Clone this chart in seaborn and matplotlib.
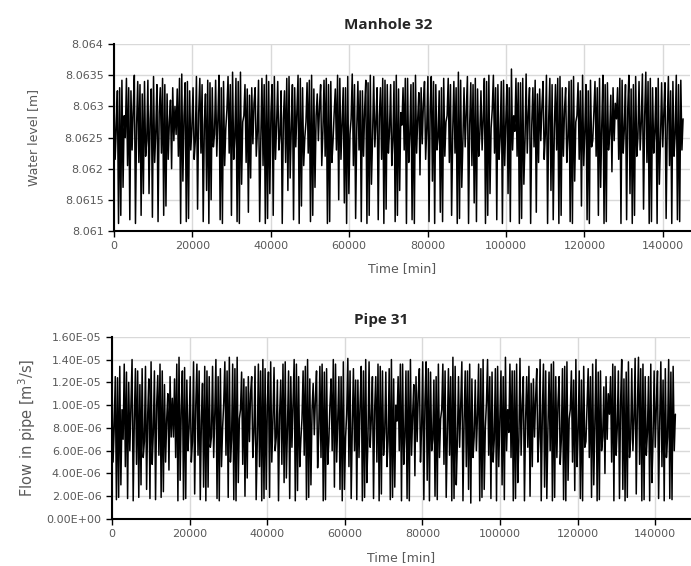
import numpy as np
import pandas as pd
import matplotlib
matplotlib.use("Agg")
import matplotlib.pyplot as plt
import seaborn as sns

# daily extremes (one value per day, 101 days)
# Manhole 32 water level [m]
level_peak_a = [
    8.06335, 8.06330, 8.06345, 8.06325, 8.06340, 8.06320, 8.06342, 8.06348, 8.06330, 8.06335,
    8.06310, 8.06328, 8.06352, 8.06340, 8.06330, 8.06345, 8.06320, 8.06338, 8.06342, 8.06330,
    8.06348, 8.06355, 8.06340, 8.06335, 8.06318, 8.06330, 8.06345, 8.06350, 8.06335, 8.06340,
    8.06325, 8.06348, 8.06330, 8.06345, 8.06338, 8.06350, 8.06320, 8.06342, 8.06335, 8.06328,
    8.06345, 8.06330, 8.06352, 8.06340, 8.06325, 8.06338, 8.06348, 8.06330, 8.06342, 8.06335,
    8.06350, 8.06330, 8.06345, 8.06338, 8.06322, 8.06340, 8.06348, 8.06335, 8.06330, 8.06345,
    8.06340, 8.06355, 8.06330, 8.06338, 8.06345, 8.06325, 8.06340, 8.06350, 8.06335, 8.06342,
    8.06330, 8.06345, 8.06338, 8.06352, 8.06330, 8.06320, 8.06340, 8.06345, 8.06335, 8.06348,
    8.06330, 8.06342, 8.06338, 8.06350, 8.06325, 8.06340, 8.06345, 8.06335, 8.06318, 8.06330,
    8.06342, 8.06350, 8.06335, 8.06340, 8.06355, 8.06345, 8.06330, 8.06338, 8.06348, 8.06340,
    8.06335]
level_low_a = [
    8.06215, 8.06170, 8.06205, 8.06230, 8.06210, 8.06220, 8.06160, 8.06210, 8.06225, 8.06215,
    8.06245, 8.06220, 8.06180, 8.06230, 8.06215, 8.06225, 8.06165, 8.06235, 8.06220, 8.06205,
    8.06225, 8.06215, 8.06175, 8.06210, 8.06240, 8.06220, 8.06205, 8.06160, 8.06215, 8.06230,
    8.06210, 8.06185, 8.06235, 8.06205, 8.06225, 8.06170, 8.06245, 8.06220, 8.06210, 8.06230,
    8.06215, 8.06160, 8.06205, 8.06230, 8.06220, 8.06175, 8.06235, 8.06215, 8.06225, 8.06205,
    8.06165, 8.06230, 8.06210, 8.06225, 8.06240, 8.06215, 8.06180, 8.06230, 8.06220, 8.06210,
    8.06225, 8.06170, 8.06235, 8.06205, 8.06220, 8.06230, 8.06160, 8.06225, 8.06215, 8.06205,
    8.06230, 8.06220, 8.06175, 8.06225, 8.06235, 8.06245, 8.06215, 8.06165, 8.06230, 8.06220,
    8.06210, 8.06180, 8.06215, 8.06205, 8.06235, 8.06220, 8.06170, 8.06230, 8.06245, 8.06215,
    8.06225, 8.06160, 8.06220, 8.06230, 8.06210, 8.06225, 8.06175, 8.06235, 8.06205, 8.06220,
    8.06230]
level_mid = [
    8.06265, 8.06285, 8.06250, 8.06295, 8.06270, 8.06245, 8.06280, 8.06260, 8.06290, 8.06275,
    8.06300, 8.06255, 8.06285, 8.06265, 8.06245, 8.06290, 8.06270, 8.06255, 8.06280, 8.06265,
    8.06295, 8.06250, 8.06275, 8.06285, 8.06305, 8.06260, 8.06245, 8.06290, 8.06270, 8.06255,
    8.06280, 8.06265, 8.06295, 8.06250, 8.06275, 8.06285, 8.06300, 8.06260, 8.06245, 8.06290,
    8.06270, 8.06255, 8.06280, 8.06265, 8.06295, 8.06250, 8.06275, 8.06285, 8.06260, 8.06245,
    8.06290, 8.06270, 8.06255, 8.06280, 8.06305, 8.06265, 8.06295, 8.06250, 8.06275, 8.06285,
    8.06260, 8.06245, 8.06290, 8.06270, 8.06255, 8.06280, 8.06265, 8.06295, 8.06250, 8.06275,
    8.06285, 8.06260, 8.06245, 8.06290, 8.06270, 8.06300, 8.06255, 8.06280, 8.06265, 8.06295,
    8.06250, 8.06275, 8.06285, 8.06260, 8.06245, 8.06290, 8.06270, 8.06255, 8.06305, 8.06280,
    8.06265, 8.06295, 8.06250, 8.06275, 8.06285, 8.06260, 8.06245, 8.06290, 8.06270, 8.06255,
    8.06280]
level_peak_b = [
    8.06325, 8.06342, 8.06330, 8.06350, 8.06335, 8.06340, 8.06328, 8.06335, 8.06345, 8.06320,
    8.06330, 8.06345, 8.06338, 8.06325, 8.06348, 8.06335, 8.06342, 8.06330, 8.06350, 8.06340,
    8.06335, 8.06345, 8.06355, 8.06328, 8.06330, 8.06342, 8.06335, 8.06340, 8.06348, 8.06325,
    8.06345, 8.06335, 8.06350, 8.06330, 8.06342, 8.06328, 8.06335, 8.06345, 8.06340, 8.06350,
    8.06330, 8.06348, 8.06335, 8.06325, 8.06342, 8.06350, 8.06330, 8.06345, 8.06335, 8.06340,
    8.06328, 8.06345, 8.06335, 8.06350, 8.06330, 8.06348, 8.06340, 8.06325, 8.06345, 8.06335,
    8.06330, 8.06342, 8.06348, 8.06335, 8.06328, 8.06345, 8.06350, 8.06330, 8.06340, 8.06335,
    8.06360, 8.06338, 8.06345, 8.06330, 8.06342, 8.06328, 8.06350, 8.06335, 8.06345, 8.06330,
    8.06340, 8.06348, 8.06325, 8.06335, 8.06342, 8.06330, 8.06350, 8.06338, 8.06330, 8.06345,
    8.06335, 8.06328, 8.06348, 8.06352, 8.06340, 8.06330, 8.06345, 8.06338, 8.06325, 8.06350,
    8.06342]
level_low_b = [
    8.06112, 8.06125, 8.06118, 8.06112, 8.06125, 8.06160, 8.06122, 8.06115, 8.06125, 8.06140,
    8.06200, 8.06112, 8.06115, 8.06120, 8.06135, 8.06115, 8.06112, 8.06150, 8.06118, 8.06112,
    8.06125, 8.06115, 8.06112, 8.06130, 8.06185, 8.06115, 8.06112, 8.06120, 8.06125, 8.06112,
    8.06165, 8.06118, 8.06112, 8.06140, 8.06115, 8.06125, 8.06205, 8.06112, 8.06115, 8.06150,
    8.06145, 8.06112, 8.06120, 8.06115, 8.06112, 8.06125, 8.06118, 8.06112, 8.06135, 8.06115,
    8.06125, 8.06112, 8.06118, 8.06112, 8.06190, 8.06115, 8.06112, 8.06130, 8.06115, 8.06125,
    8.06112, 8.06120, 8.06112, 8.06145, 8.06115, 8.06112, 8.06125, 8.06118, 8.06112, 8.06160,
    8.06115, 8.06112, 8.06120, 8.06112, 8.06130, 8.06210, 8.06112, 8.06118, 8.06112, 8.06125,
    8.06115, 8.06112, 8.06140, 8.06118, 8.06112, 8.06125, 8.06112, 8.06115, 8.06195, 8.06112,
    8.06118, 8.06112, 8.06125, 8.06135, 8.06112, 8.06115, 8.06112, 8.06120, 8.06112, 8.06118,
    8.06115]

# Pipe 31 flow, in 1e-6 m3/s
flow_peak_a = [
    13.0, 12.4, 13.6, 12.0, 13.2, 11.8, 13.4, 13.8, 12.6, 13.0,
    11.0, 12.3, 14.2, 13.3, 12.5, 13.6, 11.9, 13.0, 13.4, 12.5,
    13.8, 14.2, 13.2, 12.9, 11.6, 12.5, 13.6, 14.0, 12.9, 13.3,
    12.2, 13.8, 12.5, 13.6, 13.0, 14.0, 11.9, 13.4, 12.9, 12.3,
    13.6, 12.5, 14.1, 13.2, 12.2, 13.0, 13.8, 12.5, 13.4, 12.9,
    14.0, 12.5, 13.6, 13.0, 11.8, 13.2, 13.8, 12.9, 12.5, 13.6,
    13.2, 14.2, 12.5, 13.0, 13.6, 12.2, 13.2, 14.0, 12.9, 13.4,
    12.5, 13.6, 13.0, 14.1, 12.5, 11.9, 13.2, 13.6, 12.9, 13.8,
    12.5, 13.4, 13.0, 14.0, 12.2, 13.2, 13.6, 12.9, 11.6, 12.5,
    13.4, 14.0, 12.9, 13.2, 14.2, 13.6, 12.5, 13.0, 13.8, 13.2,
    12.9]
flow_low_a = [
    5.0, 3.0, 4.6, 6.0, 4.8, 5.4, 2.6, 4.8, 5.6, 5.0,
    7.2, 5.4, 3.4, 6.0, 5.0, 5.6, 2.8, 6.3, 5.4, 4.6,
    5.6, 5.0, 3.2, 4.8, 6.8, 5.4, 4.6, 2.6, 5.0, 6.0,
    4.8, 3.6, 6.3, 4.6, 5.6, 3.0, 7.4, 5.4, 4.8, 6.0,
    5.0, 2.6, 4.6, 6.0, 5.4, 3.2, 6.3, 5.0, 5.6, 4.6,
    2.8, 6.0, 4.8, 5.6, 6.8, 5.0, 3.4, 6.0, 5.4, 4.8,
    5.6, 3.0, 6.3, 4.6, 5.4, 6.0, 2.6, 5.6, 5.0, 4.6,
    6.0, 5.4, 3.2, 5.6, 6.3, 7.2, 5.0, 2.8, 6.0, 5.4,
    4.8, 3.4, 5.0, 4.6, 6.3, 5.4, 3.0, 6.0, 7.0, 5.0,
    5.6, 2.6, 5.4, 6.0, 4.8, 5.6, 3.2, 6.3, 4.6, 5.4,
    6.0]
flow_mid = [
    8.0, 9.6, 7.0, 10.2, 8.6, 6.8, 9.2, 7.6, 10.0, 8.8,
    10.6, 7.2, 9.6, 8.0, 6.8, 10.0, 8.6, 7.2, 9.2, 8.0,
    10.2, 7.0, 8.8, 9.6, 11.0, 7.6, 6.8, 10.0, 8.6, 7.2,
    9.2, 8.0, 10.2, 7.0, 8.8, 9.6, 10.6, 7.6, 6.8, 10.0,
    8.6, 7.2, 9.2, 8.0, 10.2, 7.0, 8.8, 9.6, 7.6, 6.8,
    10.0, 8.6, 7.2, 9.2, 11.0, 8.0, 10.2, 7.0, 8.8, 9.6,
    7.6, 6.8, 10.0, 8.6, 7.2, 9.2, 8.0, 10.2, 7.0, 8.8,
    9.6, 7.6, 6.8, 10.0, 8.6, 10.6, 7.2, 9.2, 8.0, 10.2,
    7.0, 8.8, 9.6, 7.6, 6.8, 10.0, 8.6, 7.2, 11.0, 9.2,
    8.0, 10.2, 7.0, 8.8, 9.6, 7.6, 6.8, 10.0, 8.6, 7.2,
    9.2]
flow_peak_b = [
    12.5, 13.4, 12.9, 14.0, 13.0, 13.2, 12.3, 13.0, 13.6, 11.8,
    12.5, 13.6, 13.0, 12.2, 13.8, 13.0, 13.4, 12.5, 14.0, 13.2,
    13.0, 13.6, 14.2, 12.3, 12.5, 13.4, 13.0, 13.2, 13.8, 12.2,
    13.6, 13.0, 14.0, 12.5, 13.4, 12.3, 13.0, 13.6, 13.2, 14.0,
    12.5, 13.8, 13.0, 12.2, 13.4, 14.0, 12.5, 13.6, 13.0, 13.2,
    12.3, 13.6, 13.0, 14.0, 12.5, 13.8, 13.2, 12.2, 13.6, 13.0,
    12.5, 13.4, 13.8, 13.0, 12.3, 13.6, 14.0, 12.5, 13.2, 13.0,
    14.2, 13.0, 13.6, 12.5, 13.4, 12.3, 14.0, 13.0, 13.6, 12.5,
    13.2, 13.8, 12.2, 13.0, 13.4, 12.5, 14.0, 13.0, 12.5, 13.6,
    13.0, 12.3, 13.8, 14.1, 13.2, 12.5, 13.6, 13.0, 12.2, 14.0,
    13.4]
flow_low_b = [
    1.7, 1.9, 1.8, 1.6, 1.9, 3.0, 1.8, 1.7, 1.9, 2.4,
    4.3, 1.6, 1.7, 1.8, 2.2, 1.7, 1.6, 2.8, 1.8, 1.6,
    1.9, 1.7, 1.6, 2.0, 3.6, 1.7, 1.6, 1.8, 1.9, 1.6,
    3.2, 1.8, 1.6, 2.5, 1.7, 1.9, 4.5, 1.6, 1.7, 2.8,
    2.6, 1.6, 1.8, 1.7, 1.6, 1.9, 1.8, 1.6, 2.2, 1.7,
    1.9, 1.6, 1.8, 1.6, 3.8, 1.7, 1.6, 2.0, 1.7, 1.9,
    1.6, 1.8, 1.6, 2.6, 1.4, 1.6, 1.9, 1.8, 1.6, 3.0,
    1.7, 1.6, 1.8, 1.6, 2.0, 4.6, 1.6, 1.8, 1.6, 1.9,
    1.7, 1.6, 2.5, 1.8, 1.6, 1.9, 1.6, 1.7, 4.0, 1.6,
    1.8, 1.6, 1.9, 2.2, 1.6, 1.7, 1.6, 1.8, 1.6, 1.8,
    1.7]

# order of the extremes within each day (0/1/2), varies from day to day
day_pattern = [
    0, 1, 2, 0, 2, 1, 0, 0, 2, 1, 1, 2, 0, 1, 0, 2, 2, 1, 0, 1,
    2, 0, 1, 2, 1, 0, 2, 1, 1, 0, 2, 0, 0, 1, 2, 1, 0, 2, 1, 2,
    0, 1, 2, 2, 0, 1, 0, 2, 1, 0, 1, 2, 0, 1, 1, 0, 2, 0, 1, 2,
    2, 1, 0, 2, 1, 0, 1, 2, 0, 0, 1, 2, 1, 0, 2, 1, 0, 2, 2, 1,
    0, 1, 2, 0, 1, 2, 0, 1, 1, 2, 0, 2, 1, 0, 2, 1, 1, 0, 2, 0,
    1]

step_min = 288  # five samples per day

# sequence of [peak_a, low_a, mid, peak_b, low_b] indices for each pattern
orders = {0: [0, 1, 2, 3, 4], 1: [0, 4, 3, 1, 2], 2: [2, 0, 1, 3, 4]}


def build(series):
    out = []
    for d, p in enumerate(day_pattern):
        day_vals = [s[d] for s in series]
        out.extend(day_vals[i] for i in orders[p])
    return np.array(out)


level = build([level_peak_a, level_low_a, level_mid, level_peak_b, level_low_b])
flow = build([flow_peak_a, flow_low_a, flow_mid, flow_peak_b, flow_low_b]) * 1e-6
time = np.arange(len(level)) * step_min
df = pd.DataFrame({"time": time, "level": level, "flow": flow})

sns.set_style("whitegrid", {"grid.color": "#d9d9d9", "axes.edgecolor": "black"})
plt.rcParams["font.family"] = ["DejaVu Sans"]

fig = plt.figure(figsize=(6.91, 5.66), dpi=100)
ax1 = fig.add_axes([0.165, 0.592, 0.834, 0.330])
ax2 = fig.add_axes([0.162, 0.083, 0.837, 0.322])

gray = "#595959"

# ---- Manhole 32
sns.lineplot(data=df, x="time", y="level", ax=ax1, color="black", linewidth=1.1)
ax1.set_xlim(0, 147000)
ax1.set_ylim(8.061, 8.064)
level_ticks = np.round(np.arange(8.061, 8.06401, 0.0005), 4)
ax1.set_yticks(level_ticks)
ax1.set_yticklabels([f"{v:g}" for v in level_ticks])
ax1.set_title("Manhole 32", fontsize=11, fontweight="bold", x=0.476, pad=11, family="Open Sans")
ax1.set_ylabel("Water level [m]", fontsize=9, color=gray, labelpad=18)
ax1.set_xlabel("Time [min]", fontsize=9, color=gray, labelpad=8)

# ---- Pipe 31
sns.lineplot(data=df, x="time", y="flow", ax=ax2, color="black", linewidth=1.1)
ax2.set_xlim(0, 149000)
ax2.set_ylim(0, 1.6e-5)
flow_ticks = np.arange(0, 1.61e-5, 2e-6)
ax2.set_yticks(flow_ticks)
ax2.set_yticklabels([f"{v:.2E}" for v in flow_ticks])
ax2.set_title("Pipe 31", fontsize=11, fontweight="bold", x=0.465, pad=9, family="Open Sans")
ax2.set_ylabel("Flow in pipe [m$^3$/s]", fontsize=10.5, color=gray, labelpad=6)
ax2.set_xlabel("Time [min]", fontsize=9, color=gray, labelpad=8)

for ax in (ax1, ax2):
    ax.set_xticks(np.arange(0, 140001, 20000))
    ax.set_xticklabels([str(t) for t in range(0, 140001, 20000)])
    ax.tick_params(axis="both", labelsize=8, colors=gray, length=4, width=1,
                   left=True, bottom=True)
    ax.tick_params(axis="both", color="black")
    ax.spines["top"].set_visible(False)
    ax.spines["right"].set_visible(False)
    ax.spines["left"].set_linewidth(1.5)
    ax.spines["bottom"].set_linewidth(1.5)
    ax.grid(True, color="#d9d9d9", linewidth=1)

fig.savefig("out.png", dpi=100)
